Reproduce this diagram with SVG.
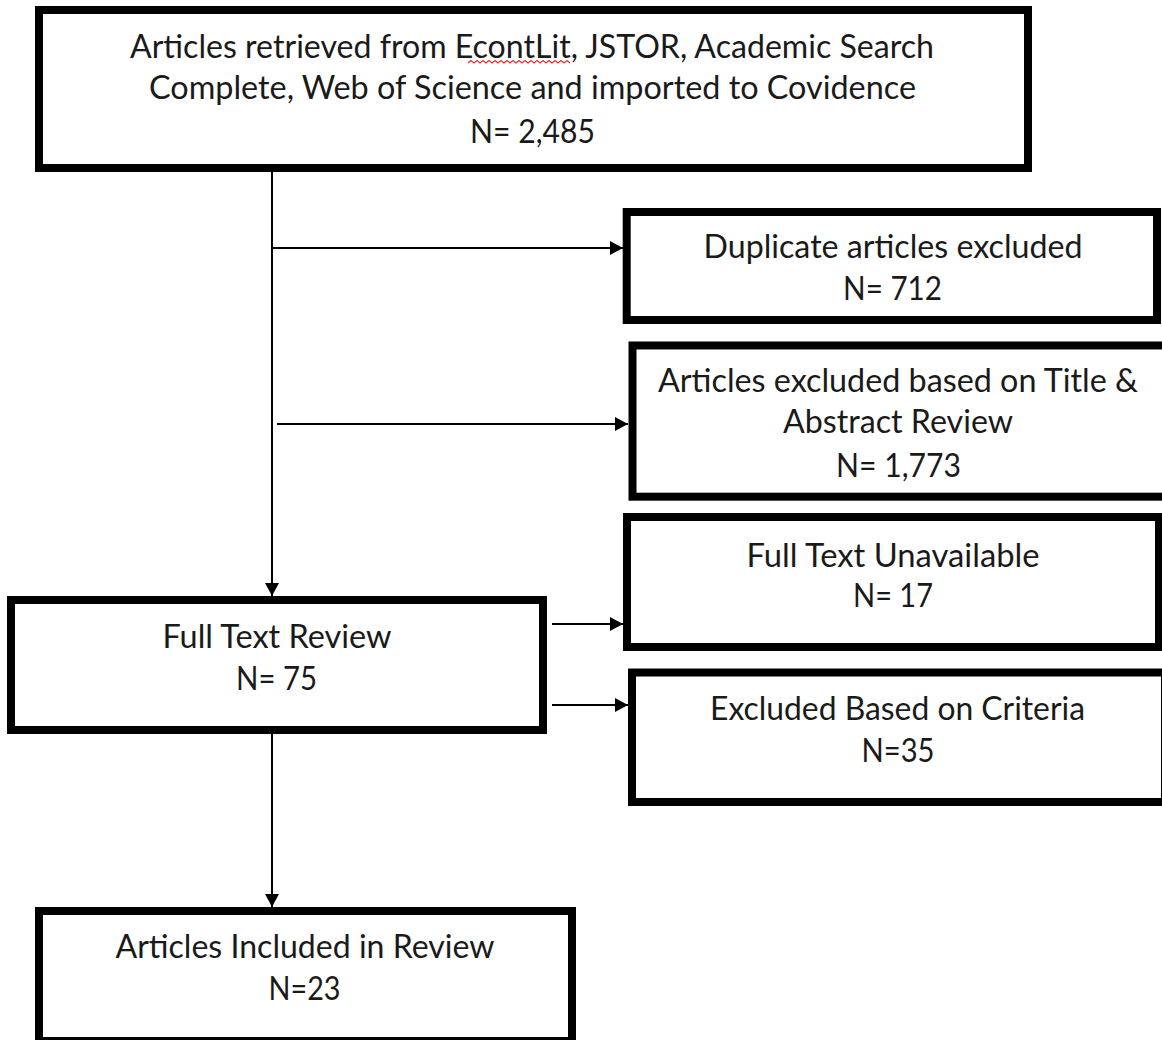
<svg xmlns="http://www.w3.org/2000/svg" width="1162" height="1040" viewBox="0 0 1162 1040">
<style>
.box{fill:#fff;stroke:#000;stroke-width:8}
.t{font-family:Lato,"Open Sans","Liberation Sans",sans-serif;font-size:32px;fill:#1a1a1a;text-anchor:middle}
.c{stroke:#000;stroke-width:2;fill:none}
</style>
<defs>
<marker id="ah" markerUnits="userSpaceOnUse" markerWidth="14" markerHeight="15" refX="13" refY="7" orient="auto" viewBox="0 0 14 14">
<path d="M0,0 L13,7 L0,14 z" fill="#000"/>
</marker>
</defs>
<rect width="1162" height="1040" fill="#fff"/>
<g id="connectors">
<line class="c" x1="272" y1="172" x2="272" y2="596" marker-end="url(#ah)"/>
<line class="c" x1="272" y1="248" x2="623" y2="248" marker-end="url(#ah)"/>
<line class="c" x1="277" y1="424" x2="628" y2="424" marker-end="url(#ah)"/>
<line class="c" x1="272" y1="734" x2="272" y2="907" marker-end="url(#ah)"/>
<line class="c" x1="552" y1="624" x2="623" y2="624" marker-end="url(#ah)"/>
<line class="c" x1="552" y1="705" x2="628" y2="705" marker-end="url(#ah)"/>
</g>
<g id="node-retrieved">
<rect class="box" x="39" y="10" width="989" height="158"/>
<text class="t" x="532" y="58" textLength="804" lengthAdjust="spacingAndGlyphs">Articles retrieved from EcontLit, JSTOR, Academic Search</text>
<text class="t" x="532.5" y="99" textLength="767" lengthAdjust="spacingAndGlyphs">Complete, Web of Science and imported to Covidence</text>
<text class="t" x="532.5" y="142.5" textLength="125" lengthAdjust="spacingAndGlyphs">N= 2,485</text>
<path d="M468 63 l3 -2.5 l3 2.5 l3 -2.5 l3 2.5 l3 -2.5 l3 2.5 l3 -2.5 l3 2.5 l3 -2.5 l3 2.5 l3 -2.5 l3 2.5 l3 -2.5 l3 2.5 l3 -2.5 l3 2.5 l3 -2.5 l3 2.5 l3 -2.5 l3 2.5 l3 -2.5 l3 2.5 l3 -2.5 l3 2.5 l3 -2.5 l3 2.5 l3 -2.5 l3 2.5 l3 -2.5 l3 2.5 l3 -2.5 l3 2.5 l3 -2.5 l3 2.5" fill="none" stroke="#e03030" stroke-width="1.2"/>
</g>
<g id="node-duplicates">
<rect class="box" x="626.7" y="212" width="530.3" height="108"/>
<text class="t" x="893" y="258.3" textLength="379" lengthAdjust="spacingAndGlyphs">Duplicate articles excluded</text>
<text class="t" x="892.5" y="300" textLength="99" lengthAdjust="spacingAndGlyphs">N= 712</text>
</g>
<g id="node-title-abstract">
<rect class="box" x="632.5" y="345.5" width="535.5" height="151.2"/>
<text class="t" x="898" y="391.7" textLength="480" lengthAdjust="spacingAndGlyphs">Articles excluded based on Title &amp;</text>
<text class="t" x="898" y="433" textLength="230" lengthAdjust="spacingAndGlyphs">Abstract Review</text>
<text class="t" x="898.5" y="476.7" textLength="125" lengthAdjust="spacingAndGlyphs">N= 1,773</text>
</g>
<g id="node-unavailable">
<rect class="box" x="627" y="517" width="532" height="130"/>
<text class="t" x="893" y="566.7" textLength="293" lengthAdjust="spacingAndGlyphs">Full Text Unavailable</text>
<text class="t" x="893" y="606.7" textLength="80" lengthAdjust="spacingAndGlyphs">N= 17</text>
</g>
<g id="node-criteria">
<rect class="box" x="632" y="672.5" width="533" height="129.5"/>
<text class="t" x="897.5" y="720" textLength="375" lengthAdjust="spacingAndGlyphs">Excluded Based on Criteria</text>
<text class="t" x="898" y="761.7" textLength="73" lengthAdjust="spacingAndGlyphs">N=35</text>
</g>
<g id="node-fulltext">
<rect class="box" x="11" y="600" width="532" height="130"/>
<text class="t" x="277" y="648" textLength="229" lengthAdjust="spacingAndGlyphs">Full Text Review</text>
<text class="t" x="276.5" y="690" textLength="81" lengthAdjust="spacingAndGlyphs">N= 75</text>
</g>
<g id="node-included">
<rect class="box" x="39" y="911" width="533" height="130"/>
<text class="t" x="305" y="958" textLength="379" lengthAdjust="spacingAndGlyphs">Articles Included in Review</text>
<text class="t" x="304.5" y="1000" textLength="72" lengthAdjust="spacingAndGlyphs">N=23</text>
</g>
</svg>
